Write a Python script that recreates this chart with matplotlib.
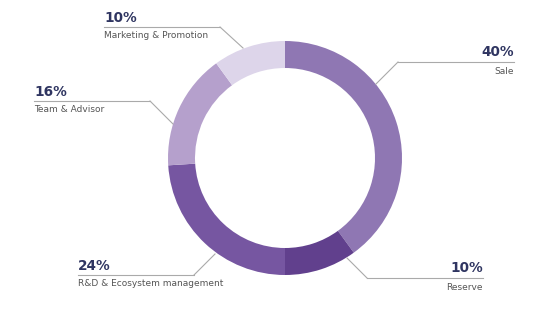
import matplotlib.pyplot as plt

# data
labels = ["Sale", "Reserve", "R&D & Ecosystem management", "Team & Advisor", "Marketing & Promotion"]
shares = [40, 10, 24, 16, 10]
colors = ["#8f77b3", "#61408d", "#7656a1", "#b5a0cc", "#ddd5ea"]

W, H = 545, 325
CX, CY, R_OUT, RING = 285, 158, 117, 27

# label layout (pixel coords, y from top): text x, line y, line span, tip on the ring, align
layout = {
    "Sale": dict(tx=514, ly=62, lx0=398, lx1=514, tip=(376, 84), ha="right"),
    "Reserve": dict(tx=483, ly=278, lx0=367, lx1=483, tip=(347, 258), ha="right"),
    "R&D & Ecosystem management": dict(tx=78, ly=275, lx0=78, lx1=194, tip=(215, 254), ha="left"),
    "Team & Advisor": dict(tx=34, ly=101, lx0=34, lx1=150, tip=(173, 124), ha="left"),
    "Marketing & Promotion": dict(tx=104, ly=27, lx0=104, lx1=220, tip=(243, 48), ha="left"),
}

fig = plt.figure(figsize=(W / 100, H / 100), dpi=100)
ax = fig.add_axes([0, 0, 1, 1])
ax.pie(shares, colors=colors, startangle=90, counterclock=False,
       center=(CX, H - CY), radius=R_OUT,
       wedgeprops=dict(width=RING, linewidth=0))
ax.set_xlim(0, W)
ax.set_ylim(0, H)
ax.set_aspect("auto")
ax.axis("off")

for lab, val in zip(labels, shares):
    p = layout[lab]
    ly = H - p["ly"]
    # elbow sits on the side facing the donut
    elbow = p["lx0"] if p["ha"] == "right" else p["lx1"]
    ax.plot([p["lx0"], p["lx1"]], [ly, ly], color="#aaaaaa", lw=0.8)
    ax.plot([elbow, p["tip"][0]], [ly, H - p["tip"][1]], color="#aaaaaa", lw=0.8)
    ax.text(p["tx"], ly + 2.5, f"{val}%", ha=p["ha"], va="bottom",
            fontsize=9.8, fontweight="semibold", color="#2f3561", family="DejaVu Sans")
    ax.text(p["tx"], ly - 4.5, lab, ha=p["ha"], va="top",
            fontsize=6.5, color="#555555", family="DejaVu Sans")

fig.savefig("out.png", dpi=100)
